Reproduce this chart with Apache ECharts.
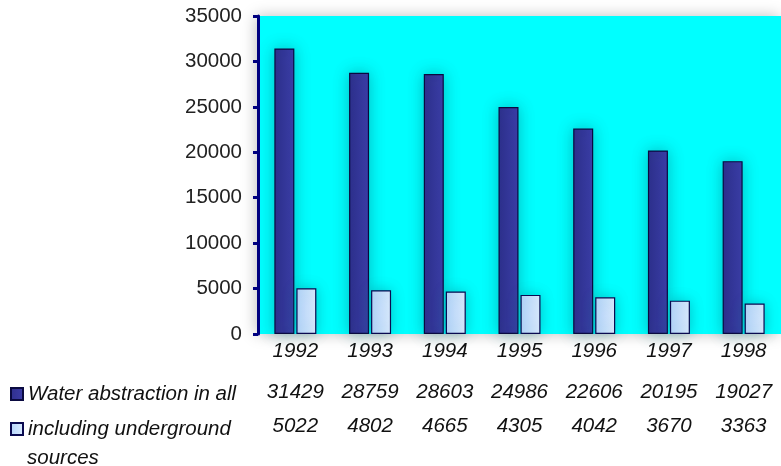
<!DOCTYPE html>
<html style="height: 100%">
   <head>
       <meta charset="utf-8">
   </head>
   <body style="height: 100%; margin: 0; background: #fff">
       <div id="container" style="width: 781px; height: 466px"></div>
       <script type="text/javascript" src="https://cdn.jsdelivr.net/npm/echarts@6/dist/echarts.min.js"></script>
       <script type="text/javascript">
        var years = ['1992', '1993', '1994', '1995', '1996', '1997', '1998'];
        var waterAll = [31429, 28759, 28603, 24986, 22606, 20195, 19027];
        var underground = [5022, 4802, 4665, 4305, 4042, 3670, 3363];
        var yTicks = [0, 5000, 10000, 15000, 20000, 25000, 30000, 35000];

        var fontName = 'Liberation Sans';
        var navy = '#000080';

        var dom = document.getElementById("container");
        var myChart = echarts.init(dom);

        // x axes: years row, then the two rows of the data table
        function tableAxis(labels, offset) {
            return {
                type: 'category',
                data: labels,
                position: 'bottom',
                offset: offset,
                axisLine: { show: false },
                axisTick: { show: false },
                axisLabel: {
                    margin: 7,
                    fontFamily: fontName,
                    fontStyle: 'italic',
                    fontSize: 20.5,
                    color: '#111'
                }
            };
        }

        var option = {
            animation: false,
            backgroundColor: '#fff',
            grid: {
                left: 258, right: 0, top: 16, bottom: 132,
                show: true,
                backgroundColor: '#00ffff',
                borderWidth: 0,
                shadowColor: 'rgba(0,0,0,0.25)',
                shadowBlur: 14,
                shadowOffsetX: -2
            },
            legend: {
                orient: 'vertical',
                left: 10,
                top: 384,
                padding: 0,
                itemGap: 15,
                itemWidth: 12,
                itemHeight: 12,
                icon: 'rect',
                selectedMode: false,
                data: ['Water abstraction in all', 'including underground sources'],
                formatter: function (name) {
                    return name === 'including underground sources' ? 'including underground' : name;
                },
                textStyle: {
                    fontFamily: fontName,
                    fontStyle: 'italic',
                    fontSize: 20.5,
                    color: '#111'
                }
            },
            graphic: [{
                type: 'text',
                left: 27,
                top: 448,
                style: {
                    text: 'sources',
                    font: 'italic 20.5px "Liberation Sans"',
                    fill: '#111'
                }
            }],
            xAxis: [
                tableAxis(years, 0),
                tableAxis(waterAll.map(String), 41),
                tableAxis(underground.map(String), 75)
            ],
            yAxis: {
                type: 'value',
                min: 0,
                max: 35000,
                interval: 5000,
                splitLine: { show: false },
                axisLine: { show: true, lineStyle: { color: navy, width: 3 } },
                axisTick: { show: true, length: 5, lineStyle: { color: navy, width: 3 } },
                axisLabel: {
                    margin: 16,
                    fontFamily: fontName,
                    fontSize: 20.5,
                    color: '#222',
                    customValues: yTicks,
                    formatter: function (v) { return String(v); }
                }
            },
            series: [{
                name: 'Water abstraction in all',
                type: 'bar',
                xAxisIndex: 0,
                data: waterAll,
                barWidth: 20,
                barGap: '10%',
                itemStyle: {
                    color: new echarts.graphic.LinearGradient(0, 0, 1, 0, [
                        { offset: 0, color: '#2e2e8c' },
                        { offset: 1, color: '#3c3ca8' }
                    ]),
                    borderColor: '#0a0a40',
                    borderWidth: 1.2,
                    shadowColor: 'rgba(0,110,120,0.45)',
                    shadowBlur: 16
                }
            }, {
                name: 'including underground sources',
                type: 'bar',
                xAxisIndex: 0,
                data: underground,
                barWidth: 20,
                itemStyle: {
                    color: new echarts.graphic.LinearGradient(0, 0, 1, 0, [
                        { offset: 0, color: '#b4d4fa' },
                        { offset: 1, color: '#dcecff' }
                    ]),
                    borderColor: '#0a0a50',
                    borderWidth: 1.2,
                    shadowColor: 'rgba(0,110,120,0.4)',
                    shadowBlur: 14
                }
            }]
        };

        myChart.setOption(option);
       </script>
   </body>
</html>
